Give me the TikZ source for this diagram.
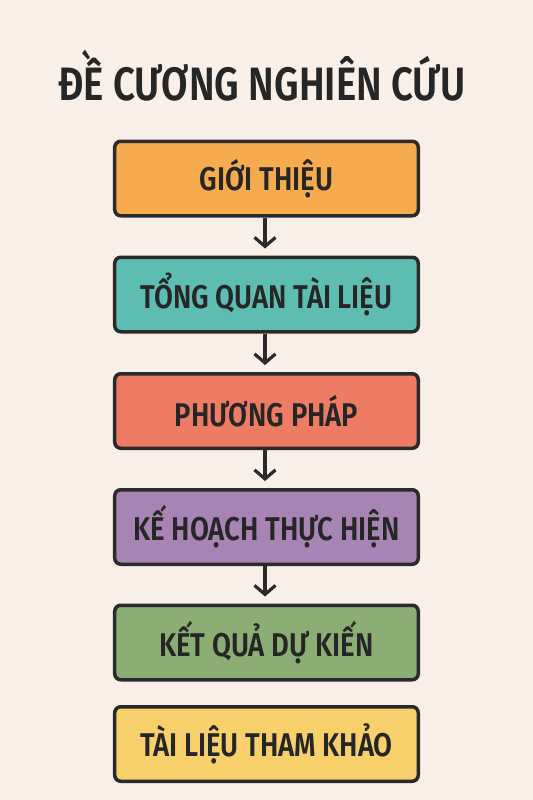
\documentclass[tikz,border=0pt]{standalone}
\usepackage{fontspec}
\usetikzlibrary{arrows.meta}
\newfontfamily\boxfont{Fira Sans SemiBold}[FakeStretch=0.835]
\newfontfamily\titlefont{Fira Sans SemiBold}[FakeStretch=0.82]
\definecolor{bgc}{HTML}{F8F0E8}
\definecolor{inkc}{HTML}{262626}
\definecolor{edgec}{HTML}{2A2A2A}
\definecolor{c1}{HTML}{F5AB4E}
\definecolor{c2}{HTML}{5EBDB2}
\definecolor{c3}{HTML}{EE7B63}
\definecolor{c4}{HTML}{A884B5}
\definecolor{c5}{HTML}{8BAE74}
\definecolor{c6}{HTML}{F7CF6B}
\tikzset{
  stagebox/.style={draw=edgec, line width=3.5bp, rounded corners=6bp,
    minimum width=303.5bp, minimum height=74.5bp, inner sep=0pt,
    text=inkc, font=\boxfont\fontsize{33}{33}\selectfont},
  flowarrow/.style={draw=edgec, line width=3.2bp,
    -{Straight Barb[length=9bp,width=21bp]}},
  titletext/.style={text=inkc, inner sep=0pt,
    font=\titlefont\fontsize{47}{47}\selectfont}
}
\begin{document}
\begin{tikzpicture}[x=1bp,y=-1bp]
\fill[bgc] (0,0) rectangle (533,800);
\useasboundingbox (0,0) rectangle (533,800);
\node[titletext, anchor=base] (title) at (262,100) {ĐỀ CƯƠNG NGHIÊN CỨU};
\node[stagebox, fill=c1] (b1) at (266.5,178.5) {GIỚI THIỆU};
\node[stagebox, fill=c2] (b2) at (266.5,294.5) {TỔNG QUAN TÀI LIỆU};
\node[stagebox, fill=c3] (b3) at (266.5,411) {PHƯƠNG PHÁP};
\node[stagebox, fill=c4] (b4) at (266.5,527) {KẾ HOẠCH THỰC HIỆN};
\node[stagebox, fill=c5] (b5) at (266.5,642.5) {KẾT QUẢ DỰ KIẾN};
\node[stagebox, fill=c6] (b6) at (266.5,744) {TÀI LIỆU THAM KHẢO};
\draw[flowarrow] ([xshift=-1.5bp]b1.south) -- ([xshift=-1.5bp,yshift=7bp]b2.north);
\draw[flowarrow] ([xshift=-1.5bp]b2.south) -- ([xshift=-1.5bp,yshift=7bp]b3.north);
\draw[flowarrow] ([xshift=-1.5bp]b3.south) -- ([xshift=-1.5bp,yshift=7bp]b4.north);
\draw[flowarrow] ([xshift=-1.5bp]b4.south) -- ([xshift=-1.5bp,yshift=7bp]b5.north);
\end{tikzpicture}
\end{document}
